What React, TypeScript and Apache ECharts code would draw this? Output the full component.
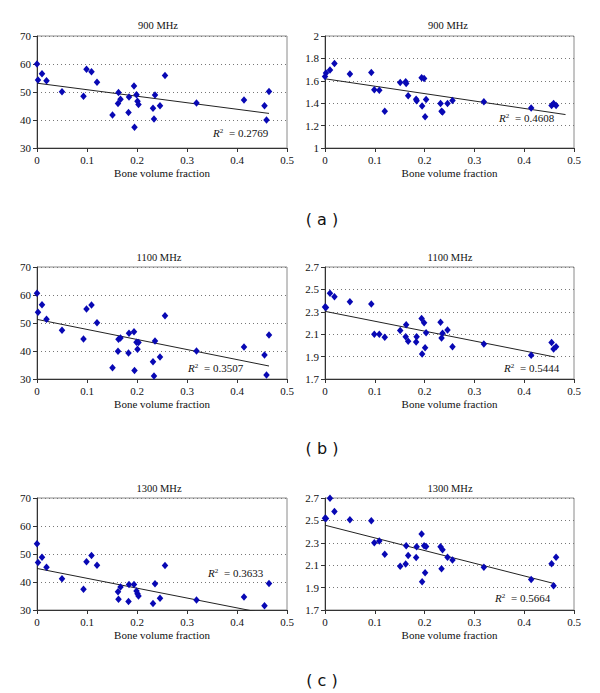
import React, { useEffect, useRef } from "react";
import * as echarts from "echarts";

// Bone volume fraction of each sample (shared by every panel)
const X = [0, 0.002, 0.01, 0.019, 0.05, 0.093, 0.099, 0.109, 0.12, 0.151, 0.162, 0.163, 0.167, 0.183, 0.184, 0.194, 0.195, 0.199, 0.201, 0.203, 0.232, 0.234, 0.236, 0.246, 0.256, 0.319, 0.414, 0.455, 0.459, 0.464];

// Left column (scale 30-70), right column
const Y900L = [60.0, 54.3, 56.5, 54.0, 50.1, 48.5, 58.1, 57.2, 53.5, 41.8, 45.9, 49.8, 47.4, 42.7, 48.2, 52.1, 37.4, 49.0, 46.7, 45.5, 44.2, 40.4, 48.9, 45.1, 55.9, 46.1, 47.1, 45.1, 40.0, 50.2];
const Y900R = [1.639, 1.669, 1.696, 1.755, 1.66, 1.675, 1.519, 1.516, 1.328, 1.585, 1.591, 1.576, 1.466, 1.436, 1.421, 1.627, 1.376, 1.621, 1.278, 1.433, 1.397, 1.328, 1.322, 1.397, 1.424, 1.412, 1.358, 1.379, 1.397, 1.379];
const Y1100L = [60.6, 53.8, 56.5, 51.3, 47.4, 44.3, 55.0, 56.4, 50.1, 34.0, 39.9, 44.2, 44.6, 39.3, 46.3, 46.9, 33.0, 43.1, 40.6, 43.0, 36.2, 31.1, 43.6, 37.9, 52.6, 40.0, 41.4, 38.6, 31.4, 45.7];
const Y1100R = [2.343, 2.338, 2.465, 2.435, 2.39, 2.37, 2.099, 2.099, 2.072, 2.134, 2.078, 2.185, 2.036, 2.03, 2.078, 2.241, 1.923, 2.203, 1.98, 2.113, 2.206, 2.066, 2.108, 2.137, 1.989, 2.012, 1.911, 2.027, 1.967, 1.989];
const Y1300L = [53.7, 47.0, 48.8, 45.3, 41.2, 37.4, 47.2, 49.5, 46.0, null, 36.5, 33.8, 38.2, 33.0, 39.1, 39.1, null, 36.8, 35.8, 35.0, 32.3, null, 39.4, 34.2, 45.9, 33.6, 34.6, 31.5, null, 39.5];
const Y1300R = [2.52, 2.517, 2.697, 2.58, 2.505, 2.496, 2.3, 2.316, 2.198, 2.09, 2.111, 2.274, 2.186, 2.168, 2.265, 2.379, 1.952, 2.274, 2.033, 2.268, 2.265, 2.069, 2.238, 2.171, 2.147, 2.081, 1.973, 2.114, 1.916, 2.171];

// Trend line end points [x, y]
const T900L = [[0, 53.15], [0.464, 42.35]];
const T900R = [[0, 1.618], [0.483, 1.2985]];
const T1100L = [[0, 51.3], [0.464, 34.64]];
const T1100R = [[0, 2.304], [0.462, 1.896]];
const T1300L = [[0, 44.84], [0.464, 28.5]];
const T1300R = [[0, 2.457], [0.462, 1.934]];

const TITLES = ["900 MHz", "900 MHz", "1100 MHz", "1100 MHz", "1300 MHz", "1300 MHz"];
const R2 = ["0.2769", "0.4608", "0.3507", "0.5444", "0.3633", "0.5664"];
const Y_MIN = [30, 1, 30, 1.7, 30, 1.7];
const Y_MAX = [70, 2, 70, 2.7, 70, 2.7];
const Y_STEP = [10, 0.2, 10, 0.2, 10, 0.2];
const PANEL_LABELS = ["( a )", "( b )", "( c )"];
const X_NAME = "Bone volume fraction";

const SERIES_Y = [Y900L, Y900R, Y1100L, Y1100R, Y1300L, Y1300R];
const TRENDS = [T900L, T900R, T1100L, T1100R, T1300L, T1300R];

// layout
const GRIDS = [
  { left: 37, top: 36, width: 250, height: 112 },
  { left: 325, top: 36, width: 249, height: 112 },
  { left: 37, top: 267, width: 250, height: 112 },
  { left: 325, top: 267, width: 249, height: 112 },
  { left: 37, top: 498, width: 250, height: 112 },
  { left: 325, top: 498, width: 249, height: 112 },
];
const TITLE_POS = [[158, 25], [448, 25], [159, 257], [450, 257], [159, 488], [450, 488]];
const R2_POS = [[213, 133], [499, 118], [188, 368], [504, 368], [208, 573], [495, 598]];
const LABEL_POS = [[322, 219], [322, 448], [322, 680]];

const SERIF = "'Liberation Serif', 'Times New Roman', serif";
const BLUE = "#0808b4";

export default function App() {
  const ref = useRef<HTMLDivElement>(null);
  useEffect(() => {
    if (!ref.current) return;
    const chart = echarts.init(ref.current, undefined, { renderer: "svg" });
    const fmt = (v: number) => String(Math.round(v * 10) / 10);
    const grid = GRIDS.map((g) => ({
      ...g,
      show: true,
      borderColor: "#8a8a8a",
      borderWidth: 1,
      backgroundColor: "transparent",
    }));
    const xAxis = GRIDS.map((_, i) => ({
      gridIndex: i,
      type: "value",
      min: 0,
      max: 0.5,
      interval: 0.1,
      axisLine: { show: true, onZero: false, lineStyle: { color: "#333", width: 1 } },
      axisTick: { show: true, length: 4, lineStyle: { color: "#333" } },
      axisLabel: { margin: 6, fontSize: 11, color: "#111", fontFamily: SERIF, formatter: fmt },
      splitLine: { show: false },
      name: X_NAME,
      nameLocation: "middle",
      nameGap: 19,
      nameTextStyle: { fontSize: 11, color: "#111", fontFamily: SERIF },
    }));
    const yAxis = GRIDS.map((_, i) => ({
      gridIndex: i,
      type: "value",
      min: Y_MIN[i],
      max: Y_MAX[i],
      interval: Y_STEP[i],
      axisLine: { show: true, onZero: false, lineStyle: { color: "#333", width: 1 } },
      axisTick: { show: true, length: 4, lineStyle: { color: "#333" } },
      axisLabel: { margin: 6, fontSize: 11, color: "#111", fontFamily: SERIF, formatter: fmt },
      splitLine: { show: true, lineStyle: { color: "#777", width: 1, type: [1, 3] } },
    }));
    const series: any[] = [];
    SERIES_Y.forEach((ys, i) => {
      const data = X.map((x, k) => [x, ys[k]]).filter((d) => d[1] !== null);
      series.push({
        type: "line",
        xAxisIndex: i,
        yAxisIndex: i,
        data: TRENDS[i],
        showSymbol: false,
        symbol: "none",
        clip: true,
        lineStyle: { color: "#222", width: 1 },
        silent: true,
        z: 2,
      });
      series.push({
        type: "scatter",
        xAxisIndex: i,
        yAxisIndex: i,
        data,
        symbol: "diamond",
        symbolSize: [6.5, 7.5],
        itemStyle: { color: BLUE, opacity: 1 },
        clip: true,
        z: 3,
      });
    });
    const graphic: any[] = [];
    TITLES.forEach((t, i) => {
      graphic.push({
        type: "text",
        x: TITLE_POS[i][0],
        y: TITLE_POS[i][1],
        style: { text: t, fontSize: 10.5, fontFamily: SERIF, fill: "#111", textAlign: "center", textVerticalAlign: "middle" },
      });
    });
    R2.forEach((r, i) => {
      graphic.push({
        type: "text",
        x: R2_POS[i][0],
        y: R2_POS[i][1],
        style: {
          text: "{r|R}{s|2} = " + r,
          fontSize: 11,
          fontFamily: SERIF,
          fill: "#111",
          textAlign: "left",
          textVerticalAlign: "middle",
          rich: {
            r: { fontStyle: "italic", fontSize: 11, fontFamily: SERIF, fill: "#111" },
            s: { fontSize: 7, fontFamily: SERIF, fill: "#111", verticalAlign: "top", padding: [0, 3, 0, 0] },
          },
        },
      });
    });
    PANEL_LABELS.forEach((t, i) => {
      graphic.push({
        type: "text",
        x: LABEL_POS[i][0],
        y: LABEL_POS[i][1],
        style: { text: t, fontSize: 16, fontFamily: "'DejaVu Sans', Verdana, sans-serif", fill: "#111", textAlign: "center", textVerticalAlign: "middle" },
      });
    });
    chart.setOption({
      animation: false,
      backgroundColor: "#fff",
      grid,
      xAxis,
      yAxis,
      series,
      graphic,
    });
    return () => chart.dispose();
  }, []);
  return <div ref={ref} style={{ position: "absolute", left: 0, top: 0, width: 600, height: 693 }} />;
}
